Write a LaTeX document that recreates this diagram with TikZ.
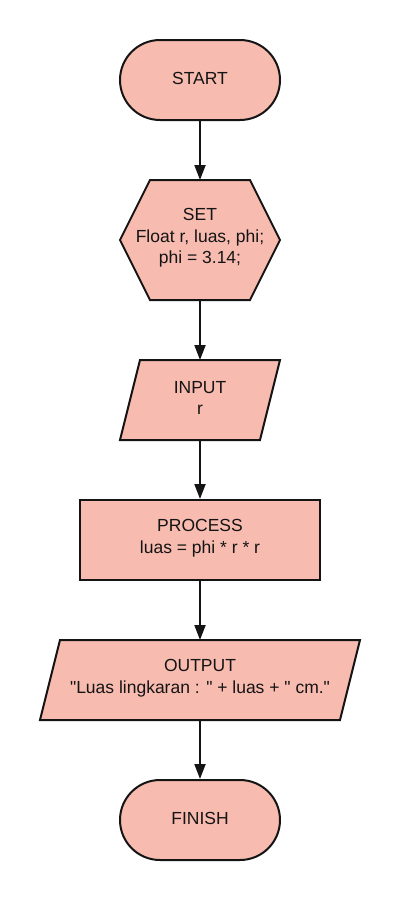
\documentclass[tikz,border=0pt]{standalone}
\usepackage{fontspec}
\setmainfont{Liberation Sans}[Ligatures=TeXOff]
\usetikzlibrary{arrows.meta,shapes.misc}
\definecolor{boxfill}{RGB}{248,187,176}
\definecolor{ink}{RGB}{20,20,20}
\tikzset{
  shapeline/.style={draw=ink, line width=2pt, fill=boxfill, line join=miter},
  label/.style={inner sep=0pt, outer sep=0pt, align=center, text=ink,
    font=\fontsize{17.5}{21.5}\selectfont},
  flow/.style={draw=ink, line width=2pt, -{Triangle[width=11pt,length=15pt]}},
  txt/.style={label, yshift=2pt},
}
\begin{document}
\begin{tikzpicture}[x=1pt,y=-1pt]
\useasboundingbox[fill=white] (0,0) rectangle (400,900);
% START
\node[shapeline, rounded rectangle, minimum width=160pt, minimum height=80pt, inner sep=0pt] (start) at (200,80) {};
\node[txt] (starttxt) at (start.center) {START};
% SET hexagon
\draw[shapeline] (150,180) -- (250,180) -- (280,240) -- (250,300) -- (150,300) -- (120,240) -- cycle;
\node[label, minimum width=160pt, minimum height=120pt] (set) at (200,240) {};
\node[txt] (settxt) at (set.center) {SET\\Float r, luas, phi;\\phi = 3.14;};
% INPUT parallelogram
\draw[shapeline] (140,360) -- (280,360) -- (260,440) -- (120,440) -- cycle;
\node[label, minimum width=160pt, minimum height=80pt] (input) at (200,400) {};
\node[txt] (inputtxt) at (input.center) {INPUT\\r};
% PROCESS
\node[shapeline, rectangle, minimum width=240pt, minimum height=80pt, inner sep=0pt] (process) at (200,540) {};
\node[txt] (processtxt) at (process.center) {PROCESS\\luas = phi * r * r};
% OUTPUT parallelogram
\draw[shapeline] (60,640) -- (360,640) -- (340,720) -- (40,720) -- cycle;
\node[label, minimum width=320pt, minimum height=80pt] (output) at (200,680) {};
\node[txt] (outputtxt) at (output.center) {OUTPUT\\"Luas lingkaran : " + luas + " cm."};
% FINISH
\node[shapeline, rounded rectangle, minimum width=160pt, minimum height=80pt, inner sep=0pt] (finish) at (200,820) {};
\node[txt] (finishtxt) at (finish.center) {FINISH};
% connectors
\draw[flow] (start.south) -- (set.north);
\draw[flow] (set.south) -- (input.north);
\draw[flow] (input.south) -- (process.north);
\draw[flow] (process.south) -- (output.north);
\draw[flow] (output.south) -- (finish.north);
\end{tikzpicture}
\end{document}
